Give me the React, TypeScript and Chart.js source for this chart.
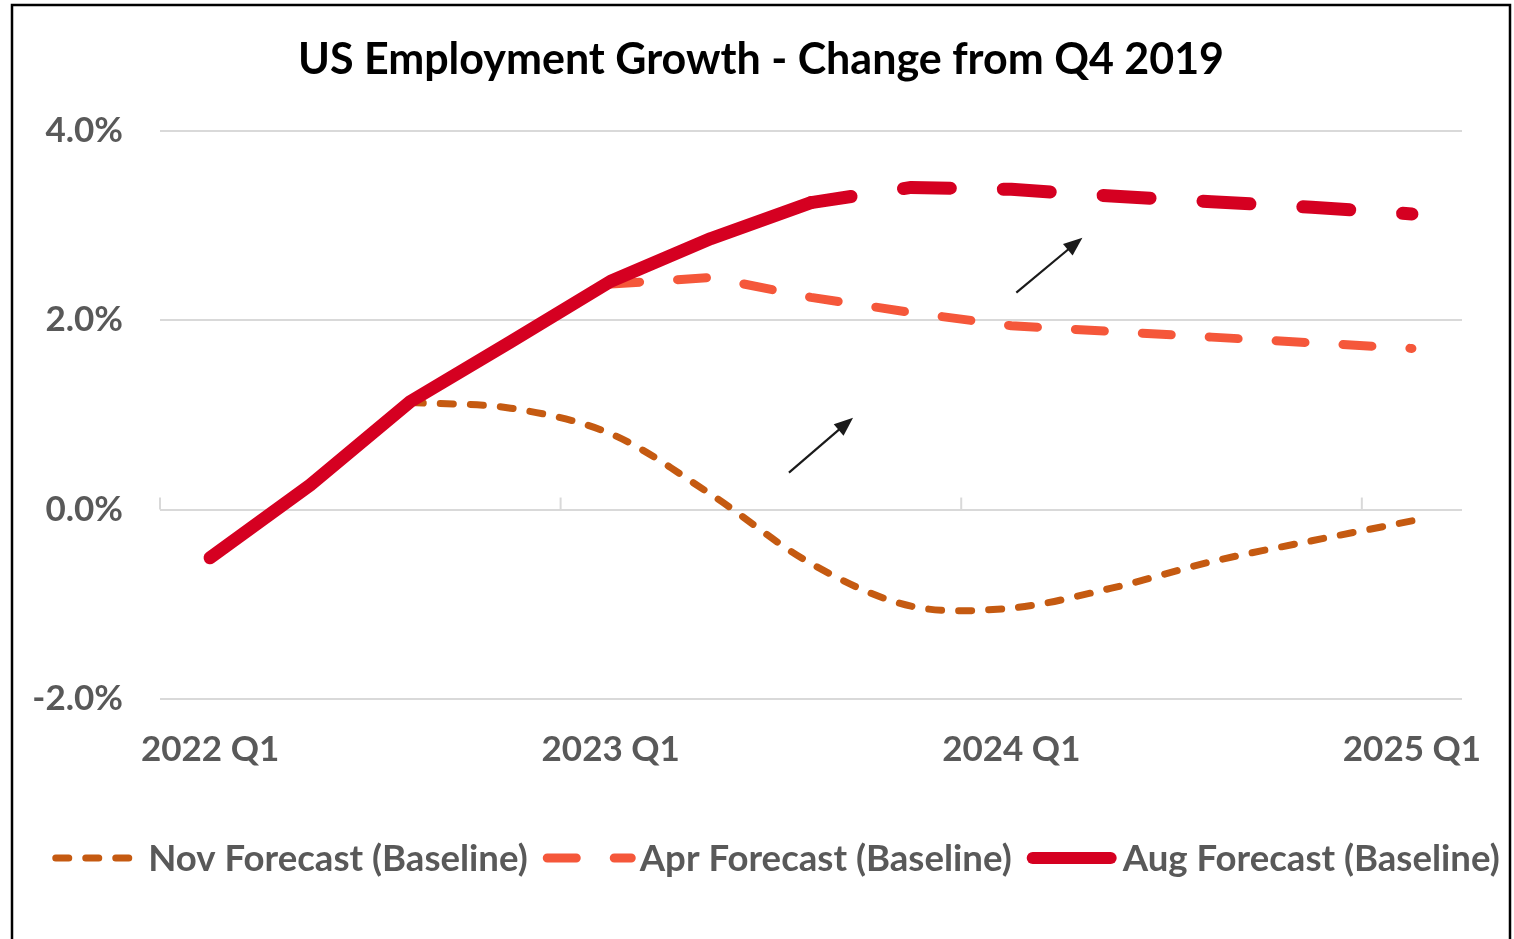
import React, { useEffect, useRef } from "react";
import { Chart, registerables } from "chart.js";

Chart.register(...registerables);

// ---------- data ----------
const quarters = [
  "2022 Q1", "2022 Q2", "2022 Q3", "2022 Q4",
  "2023 Q1", "2023 Q2", "2023 Q3", "2023 Q4",
  "2024 Q1", "2024 Q2", "2024 Q3", "2024 Q4",
  "2025 Q1",
];
const novForecast = [null, null, 1.13, 1.07, 0.8, 0.16, -0.57, -1.02, -1.04, -0.83, -0.55, -0.33, -0.12];
const aprForecast = [null, null, null, null, 2.38, 2.45, 2.24, 2.08, 1.94, 1.88, 1.82, 1.76, 1.7];
const augForecast = [-0.51, 0.26, 1.14, 1.77, 2.41, 2.86, 3.24, 3.4, 3.38, 3.31, 3.25, 3.19, 3.12];
const augLastActualIndex = 6; // dashed (forecast) from this point on
const seriesNames = ["Nov Forecast (Baseline)", "Apr Forecast (Baseline)", "Aug Forecast (Baseline)"];
const titleText = "US Employment Growth - Change from Q4 2019";
const yMin = -2;
const yMax = 4;
const yStep = 2;
const labelEvery = 4;
// arrows in data space: [category index, percent]
const arrowFrom = [[5.78, 0.39], [8.05, 2.29]];
const arrowTo = [[6.42, 0.97], [8.71, 2.87]];

// ---------- styles ----------
const FONT = "Lato";
const GREY = "#595959";
const GRID = "#d9d9d9";
const NOV_COLOR = "#C55A11";
const APR_COLOR = "#F5573A";
const AUG_COLOR = "#D50021";
const W = 1514;
const H = 939;

const styles = [
  { color: NOV_COLOR, width: 7, dash: [13, 17], sample: 80, gap: 16 },
  { color: APR_COLOR, width: 9, dash: [29, 38], sample: 93, gap: 4 },
  { color: AUG_COLOR, width: 12, dash: [], sample: 90, gap: 6 },
];

const decorPlugin = {
  id: "decor",
  beforeDatasetsDraw(chart: any) {
    const { ctx } = chart;
    const xs = chart.scales.x;
    const ys = chart.scales.y;
    const step = xs.getPixelForValue(1) - xs.getPixelForValue(0);
    const y0 = ys.getPixelForValue(0);
    ctx.save();
    ctx.strokeStyle = GRID;
    ctx.lineWidth = 2;
    for (let i = 0; i < quarters.length; i += labelEvery) {
      const x = xs.getPixelForValue(i) - step / 2;
      ctx.beginPath();
      ctx.moveTo(x, y0);
      ctx.lineTo(x, y0 - 12);
      ctx.stroke();
    }
    ctx.restore();
  },
  afterDatasetsDraw(chart: any) {
    const { ctx } = chart;
    const xs = chart.scales.x;
    const ys = chart.scales.y;
    ctx.save();
    ctx.strokeStyle = "#1a1a1a";
    ctx.fillStyle = "#1a1a1a";
    ctx.lineWidth = 2.2;
    for (let k = 0; k < arrowFrom.length; k++) {
      const x1 = xs.getPixelForValue(arrowFrom[k][0]);
      const y1 = ys.getPixelForValue(arrowFrom[k][1]);
      const x2 = xs.getPixelForValue(arrowTo[k][0]);
      const y2 = ys.getPixelForValue(arrowTo[k][1]);
      const ang = Math.atan2(y2 - y1, x2 - x1);
      const hl = 19;
      const hw = 7.5;
      const bx = x2 - Math.cos(ang) * hl;
      const by = y2 - Math.sin(ang) * hl;
      ctx.beginPath();
      ctx.moveTo(x1, y1);
      ctx.lineTo(bx + Math.cos(ang) * 2, by + Math.sin(ang) * 2);
      ctx.stroke();
      ctx.beginPath();
      ctx.moveTo(x2, y2);
      ctx.lineTo(bx + Math.sin(ang) * hw, by - Math.cos(ang) * hw);
      ctx.lineTo(bx - Math.sin(ang) * hw, by + Math.cos(ang) * hw);
      ctx.closePath();
      ctx.fill();
    }
    ctx.restore();
  },
  afterDraw(chart: any) {
    const { ctx } = chart;
    ctx.save();
    // legend
    ctx.font = `bold 36.6px ${FONT}`;
    ctx.textBaseline = "middle";
    ctx.textAlign = "left";
    const itemSpacing = 15;
    const widths = seriesNames.map((n, i) => styles[i].sample + styles[i].gap + ctx.measureText(n).width);
    const total = widths.reduce((a, b) => a + b, 0) + itemSpacing * (widths.length - 1);
    let x = 776 - total / 2;
    const ly = 858;
    seriesNames.forEach((name, i) => {
      const s = styles[i];
      ctx.strokeStyle = s.color;
      ctx.lineWidth = s.width;
      ctx.lineCap = "round";
      ctx.setLineDash(s.dash);
      ctx.beginPath();
      ctx.moveTo(x + s.width / 2, ly);
      ctx.lineTo(x + s.sample - s.width / 2, ly);
      ctx.stroke();
      ctx.setLineDash([]);
      ctx.fillStyle = GREY;
      ctx.fillText(name, x + s.sample + s.gap, ly + 1);
      x += widths[i] + itemSpacing;
    });
    // outer frame
    ctx.strokeStyle = "#000";
    ctx.lineWidth = 2.5;
    ctx.lineCap = "butt";
    ctx.beginPath();
    ctx.moveTo(12, H + 5);
    ctx.lineTo(12, 5);
    ctx.lineTo(1510, 5);
    ctx.lineTo(1510, H + 5);
    ctx.stroke();
    ctx.restore();
  },
};

export default function App() {
  const canvasRef = useRef<HTMLCanvasElement | null>(null);

  useEffect(() => {
    const canvas = canvasRef.current;
    if (!canvas) return;
    const chart = new Chart(canvas, {
      type: "line",
      data: {
        labels: quarters,
        datasets: [
          {
            label: seriesNames[0],
            data: novForecast,
            borderColor: NOV_COLOR,
            backgroundColor: NOV_COLOR,
            borderWidth: styles[0].width,
            borderDash: styles[0].dash,
            borderCapStyle: "round",
            borderJoinStyle: "round",
            tension: 0.33,
            pointRadius: 0,
            order: 2,
          },
          {
            label: seriesNames[1],
            data: aprForecast,
            borderColor: APR_COLOR,
            backgroundColor: APR_COLOR,
            borderWidth: styles[1].width,
            borderDash: styles[1].dash,
            borderCapStyle: "round",
            borderJoinStyle: "round",
            tension: 0,
            pointRadius: 0,
            order: 1,
          },
          {
            label: seriesNames[2],
            data: augForecast,
            borderColor: AUG_COLOR,
            backgroundColor: AUG_COLOR,
            borderWidth: 13,
            borderCapStyle: "round",
            borderJoinStyle: "round",
            tension: 0,
            pointRadius: 0,
            order: 0,
            segment: {
              borderDash: (c: any) => (c.p0DataIndex >= augLastActualIndex ? [47, 53] : undefined),
              borderDashOffset: (c: any) => (c.p0DataIndex >= augLastActualIndex ? 6.5 : undefined),
            },
          } as any,
        ],
      },
      options: {
        responsive: false,
        animation: false,
        devicePixelRatio: 1,
        events: [],
        layout: { padding: { left: 8, right: 0, top: 0, bottom: 160 } },
        plugins: {
          legend: { display: false },
          tooltip: { enabled: false },
          title: {
            display: true,
            text: titleText,
            color: "#000",
            font: { family: FONT, weight: "bold", size: 43, lineHeight: 1.2 },
            padding: { top: 34, bottom: 45 },
          },
        },
        scales: {
          x: {
            type: "category",
            offset: true,
            grid: { display: false, drawTicks: false },
            border: { display: false },
            ticks: {
              autoSkip: false,
              maxRotation: 0,
              minRotation: 0,
              padding: 30,
              color: GREY,
              font: { family: FONT, weight: "bold", size: 35 },
              callback: (_v: any, i: number) => (i % labelEvery === 0 ? quarters[i] : ""),
            },
            afterFit: (s: any) => {
              s.height = 80;
            },
          },
          y: {
            min: yMin,
            max: yMax,
            grid: { color: GRID, lineWidth: 2, drawTicks: false },
            border: { display: false },
            ticks: {
              stepSize: yStep,
              padding: 37,
              color: GREY,
              font: { family: FONT, weight: "bold", size: 35 },
              callback: (v: any) => Number(v).toFixed(1) + "%",
            },
            afterFit: (s: any) => {
              s.width = 152;
            },
          },
          yRight: {
            position: "right",
            display: true,
            grid: { display: false, drawTicks: false },
            border: { display: false },
            ticks: { display: false },
            afterFit: (s: any) => {
              s.width = 52;
            },
          },
        },
      } as any,
      plugins: [decorPlugin],
    });
    return () => chart.destroy();
  }, []);

  return (
    <div style={{ position: "fixed", left: 0, top: 0, width: W, height: H, background: "#fff" }}>
      <canvas ref={canvasRef} width={W} height={H} style={{ display: "block" }} />
    </div>
  );
}
